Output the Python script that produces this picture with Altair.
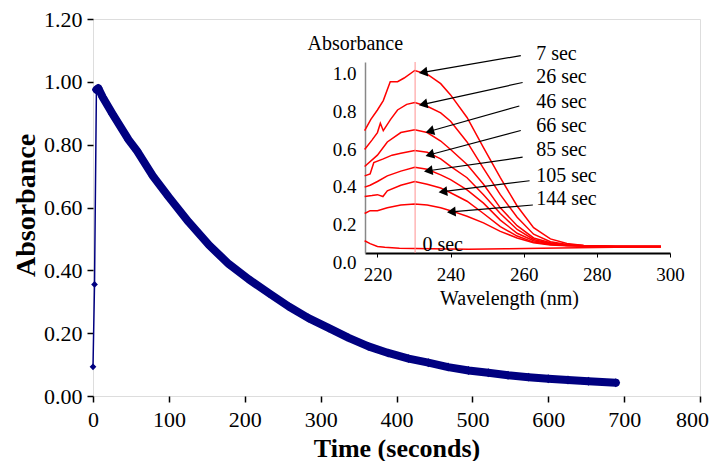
import math
import altair as alt
import pandas as pd

# ---------------- main kinetic trace ----------------
rise_t = [0, 2, 4.5]
rise_abs = [0.093, 0.355, 0.975]

decay_t = [4.5, 7, 13, 26, 47, 58, 79, 100, 126, 153, 179, 205, 232, 258, 284,
           311, 337, 363, 389, 416, 442, 468, 495, 521, 547, 574, 600, 626, 653, 689]
decay_abs = [0.975, 0.98, 0.95, 0.897, 0.815, 0.78, 0.70, 0.633, 0.554, 0.48, 0.42,
             0.372, 0.327, 0.285, 0.248, 0.216, 0.185, 0.158, 0.137, 0.119, 0.106,
             0.092, 0.081, 0.074, 0.066, 0.060, 0.055, 0.051, 0.047, 0.042]

x_ticks = [0, 100, 200, 300, 400, 500, 600, 700, 800]
y_ticks = [0.0, 0.2, 0.4, 0.6, 0.8, 1.0, 1.2]

# ---------------- inset spectra ----------------
wl_7 = [216.5, 218.2, 220, 221.6, 223.5, 225.5, 227.3, 230.2, 233.6, 237.3, 240, 244.5,
        249, 253.6, 258.2, 262.7, 267.3, 271.8, 276.4, 281, 290, 297.5]
ab_7 = [0.65, 0.71, 0.76, 0.81, 0.91, 0.91, 0.93, 0.97, 0.95, 0.90, 0.84, 0.72,
        0.56, 0.40, 0.25, 0.135, 0.075, 0.05, 0.04, 0.035, 0.035, 0.035]

wl_26 = [216.5, 218.5, 220, 220.8, 221.6, 223.6, 225.5, 228, 230.2, 233.6, 237.3, 240,
         244.5, 249, 253.6, 258.2, 262.7, 267.3, 271.8, 276.4, 285, 297.5]
ab_26 = [0.55, 0.60, 0.64, 0.69, 0.65, 0.71, 0.76, 0.79, 0.80, 0.78, 0.745, 0.70,
         0.59, 0.45, 0.31, 0.19, 0.10, 0.06, 0.045, 0.04, 0.035, 0.035]

wl_46 = [216.5, 220, 222.7, 226.4, 230.2, 233.6, 237.3, 240, 244.5, 249, 253.6, 258.2,
         262.7, 267.3, 271.8, 276.4, 285, 297.5]
ab_46 = [0.46, 0.52, 0.59, 0.64, 0.655, 0.64, 0.595, 0.55, 0.47, 0.365, 0.24, 0.145,
         0.08, 0.055, 0.042, 0.038, 0.035, 0.035]

wl_66 = [216.5, 218, 219, 221.6, 224, 226.4, 230.2, 233.6, 237.3, 240, 244.5, 249,
         253.6, 258.2, 262.7, 267.3, 271.8, 276.4, 285, 297.5]
ab_66 = [0.41, 0.42, 0.48, 0.50, 0.52, 0.53, 0.545, 0.535, 0.50, 0.46, 0.40, 0.31,
         0.21, 0.125, 0.072, 0.05, 0.042, 0.038, 0.035, 0.035]

wl_85 = [216.5, 218, 220, 222.7, 226.4, 230.2, 233.6, 237.3, 240, 244.5, 249, 253.6,
         258.2, 262.7, 267.3, 271.8, 276.4, 285, 297.5]
ab_85 = [0.35, 0.36, 0.38, 0.41, 0.435, 0.455, 0.445, 0.415, 0.39, 0.335, 0.265, 0.175,
         0.105, 0.065, 0.048, 0.04, 0.037, 0.035, 0.035]

wl_105 = [216.5, 218.5, 220, 221.5, 222.7, 226.4, 230.2, 233.6, 237.3, 240, 244.5, 249,
          253.6, 258.2, 262.7, 267.3, 271.8, 280, 297.5]
ab_105 = [0.30, 0.305, 0.31, 0.30, 0.33, 0.36, 0.38, 0.365, 0.345, 0.32, 0.275, 0.21,
          0.14, 0.09, 0.058, 0.045, 0.04, 0.036, 0.035]

wl_144 = [216.5, 218, 220, 222.7, 226.4, 230.2, 233.6, 237.3, 240, 244.5, 249, 253.6,
          258.2, 262.7, 267.3, 271.8, 280, 297.5]
ab_144 = [0.21, 0.225, 0.225, 0.24, 0.255, 0.26, 0.255, 0.24, 0.225, 0.195, 0.16, 0.115,
          0.08, 0.055, 0.043, 0.039, 0.036, 0.035]

wl_0 = [216.5, 218, 220, 222, 226, 235, 245, 255, 265, 275, 285, 297.5]
ab_0 = [0.065, 0.05, 0.035, 0.03, 0.025, 0.022, 0.02, 0.022, 0.025, 0.028, 0.03, 0.032]

peak_wl = 230.3

labels = ["7 sec", "26 sec", "46 sec", "66 sec", "85 sec", "105 sec", "144 sec"]
label_wl = [263.4] * 7
label_ab = [1.058, 0.934, 0.803, 0.674, 0.546, 0.411, 0.286]
arrow_wl_start = [259.2, 259.7, 258.8, 259.2, 259.7, 261.6, 262.5]
arrow_ab_start = [1.049, 0.906, 0.781, 0.651, 0.509, 0.384, 0.255]
arrow_wl_end = [232.5, 232.5, 234.3, 234.3, 233.9, 237.9, 240.2]
arrow_ab_end = [0.96, 0.79, 0.647, 0.522, 0.437, 0.326, 0.219]
zero_label = "0 sec"
zero_wl = [232.3]
zero_ab = [0.04]

inset_x_ticks = [220, 240, 260, 280, 300]
inset_y_ticks = [0.0, 0.2, 0.4, 0.6, 0.8, 1.0]

# ---------------- layout ----------------
TOP = 11
W, H = 607, 377
FONT = "Liberation Serif"
NAVY = "#000080"

IN_X_DOM = [216.6, 300]
IN_Y_DOM = [0, 1.015]
IN_X_RANGE = [272, 577]
IN_Y_RANGE = [253 - 8 - TOP, 62 - 8 - TOP]

# ---------------- main chart ----------------
rise_df = pd.DataFrame({"t": rise_t, "a": rise_abs})
decay_df = pd.DataFrame({"t": decay_t, "a": decay_abs})

mx = alt.Scale(domain=[0, 800], nice=False, zero=False)
my = alt.Scale(domain=[0, 1.2], nice=False)
m_xaxis = alt.Axis(values=x_ticks, title="Time (seconds)", labelFlush=False,
                   labelOffset={"condition": {"test": "datum.value == 800", "value": -8},
                                "value": 0},
                   labelOverlap=False, domain=False, grid=False, tickSize=6,
                   tickWidth=1.5, tickColor="black", labelFontSize=22,
                   labelFont=FONT, labelColor="black", labelPadding=7,
                   titleFont=FONT, titleFontSize=26, titleFontWeight="bold",
                   titleColor="black", titleX=303.5, titleY=60,
                   titleBaseline="alphabetic", titleAlign="center")
m_yaxis = alt.Axis(values=y_ticks, format=".2f", title="Absorbance", domain=False,
                   grid=False, tickSize=6, tickWidth=1.5, tickColor="black",
                   labelFontSize=22, labelFont=FONT, labelColor="black",
                   labelPadding=5, labelOverlap=False,
                   titleFont=FONT, titleFontSize=28, titleFontWeight="bold",
                   titleColor="black", titleAngle=270, titleX=-59, titleY=186,
                   titleBaseline="alphabetic", titleAlign="center")

mX = alt.X("t:Q", scale=mx, axis=m_xaxis)
mY = alt.Y("a:Q", scale=my, axis=m_yaxis)

rise_line = alt.Chart(rise_df).mark_line(color=NAVY, strokeWidth=1.5).encode(x=mX, y=mY)
rise_pts = alt.Chart(rise_df).mark_point(shape="diamond", filled=True, size=45,
                                         color=NAVY, opacity=1).encode(x=mX, y=mY)
decay_line = alt.Chart(decay_df).mark_line(color=NAVY, strokeWidth=8,
                                           strokeJoin="round", strokeCap="round").encode(x=mX, y=mY)
decay_pts = alt.Chart(decay_df).mark_point(shape="diamond", filled=True, size=80,
                                           color=NAVY, opacity=1).encode(x=mX, y=mY)
main = alt.layer(rise_line, decay_line, decay_pts, rise_pts)

# ---------------- inset ----------------
rows = []
for name, wl, ab in [("7 sec", wl_7, ab_7), ("26 sec", wl_26, ab_26),
                     ("46 sec", wl_46, ab_46), ("66 sec", wl_66, ab_66),
                     ("85 sec", wl_85, ab_85), ("105 sec", wl_105, ab_105),
                     ("144 sec", wl_144, ab_144), ("0 sec", wl_0, ab_0)]:
    for w, a in zip(wl, ab):
        rows.append({"wl": w, "v": a, "s": name})
spec_df = pd.DataFrame(rows)

ix = alt.Scale(domain=IN_X_DOM, range=IN_X_RANGE, nice=False, zero=False)
iy = alt.Scale(domain=IN_Y_DOM, range=IN_Y_RANGE, nice=False, zero=False)
i_xaxis = alt.Axis(orient="bottom", offset=-(H - IN_Y_RANGE[0]), values=inset_x_ticks,
                   title="Wavelength (nm)", labelFlush=False, labelOverlap=False,
                   grid=False, domain=True, domainColor="black", domainWidth=2,
                   tickSize=4, tickColor="black", tickWidth=1,
                   labelFont=FONT, labelFontSize=19, labelColor="black", labelPadding=8,
                   titleFont=FONT, titleFontSize=20, titleFontWeight="normal",
                   titleColor="black", titleX=416, titleY=51,
                   titleBaseline="alphabetic", titleAlign="center")
i_yaxis = alt.Axis(orient="left", offset=-IN_X_RANGE[0], values=inset_y_ticks,
                   format=".1f", title="Absorbance", grid=False, domain=True,
                   domainColor="#888888", domainWidth=1.5, ticks=False,
                   labelFont=FONT, labelFontSize=19, labelColor="black",
                   labelPadding=9, labelOffset=9, labelOverlap=False, labelFlush=False,
                   titleFont=FONT, titleFontSize=20, titleFontWeight="normal",
                   titleColor="black", titleAngle=0, titleAlign="left",
                   titleBaseline="alphabetic", titleX=-58, titleY=49.5 - 8 - TOP)

iX = alt.X("wl:Q", scale=ix, axis=i_xaxis)
iY = alt.Y("v:Q", scale=iy, axis=i_yaxis)

curves = alt.Chart(spec_df).mark_line(color="#ff0000", strokeWidth=1.5).encode(
    x=iX, y=iY, detail="s:N")

vline_df = pd.DataFrame({"wl": [peak_wl], "v": [IN_Y_DOM[0]], "v2": [IN_Y_DOM[1]]})
vline = alt.Chart(vline_df).mark_rule(color="#ff9090", strokeWidth=1).encode(
    x=iX, y=iY, y2="v2:Q")

kx = (IN_X_RANGE[1] - IN_X_RANGE[0]) / (IN_X_DOM[1] - IN_X_DOM[0])
ky = (IN_Y_RANGE[0] - IN_Y_RANGE[1]) / (IN_Y_DOM[1] - IN_Y_DOM[0])
angles = []
for ws, as_, we, ae in zip(arrow_wl_start, arrow_ab_start, arrow_wl_end, arrow_ab_end):
    dx = (we - ws) * kx
    dy = -(ae - as_) * ky
    angles.append(math.degrees(math.atan2(dy, dx)) % 360)

arrow_df = pd.DataFrame({"wl": arrow_wl_start, "v": arrow_ab_start,
                         "wl2": arrow_wl_end, "v2": arrow_ab_end})
arrows = alt.Chart(arrow_df).mark_rule(color="black", strokeWidth=1.2).encode(
    x=iX, y=iY, x2="wl2:Q", y2="v2:Q")
head_df = pd.DataFrame({"wl": arrow_wl_end, "v": arrow_ab_end, "ang": angles})
heads = alt.Chart(head_df).mark_point(shape="triangle-right", filled=True, size=100,
                                      color="black", opacity=1).encode(
    x=iX, y=iY, angle=alt.Angle("ang:Q", scale=None))

lab_df = pd.DataFrame({"wl": label_wl + zero_wl, "v": label_ab + zero_ab,
                       "txt": labels + [zero_label]})
texts = alt.Chart(lab_df).mark_text(align="left", baseline="middle", font=FONT,
                                    fontSize=20, color="black").encode(
    x=iX, y=iY, text="txt:N")

inset = alt.layer(curves, vline, arrows, heads, texts)

chart = alt.layer(main, inset).resolve_scale(
    x="independent", y="independent"
).properties(
    width=W, height=H,
    padding={"left": 85, "top": TOP, "right": 9, "bottom": 65},
    autosize=alt.AutoSizeParams(type="none"),
).configure_view(
    stroke="black", strokeWidth=3
).configure(background="white")

chart.save("out.html", embed_options={"renderer": "svg", "actions": False})
